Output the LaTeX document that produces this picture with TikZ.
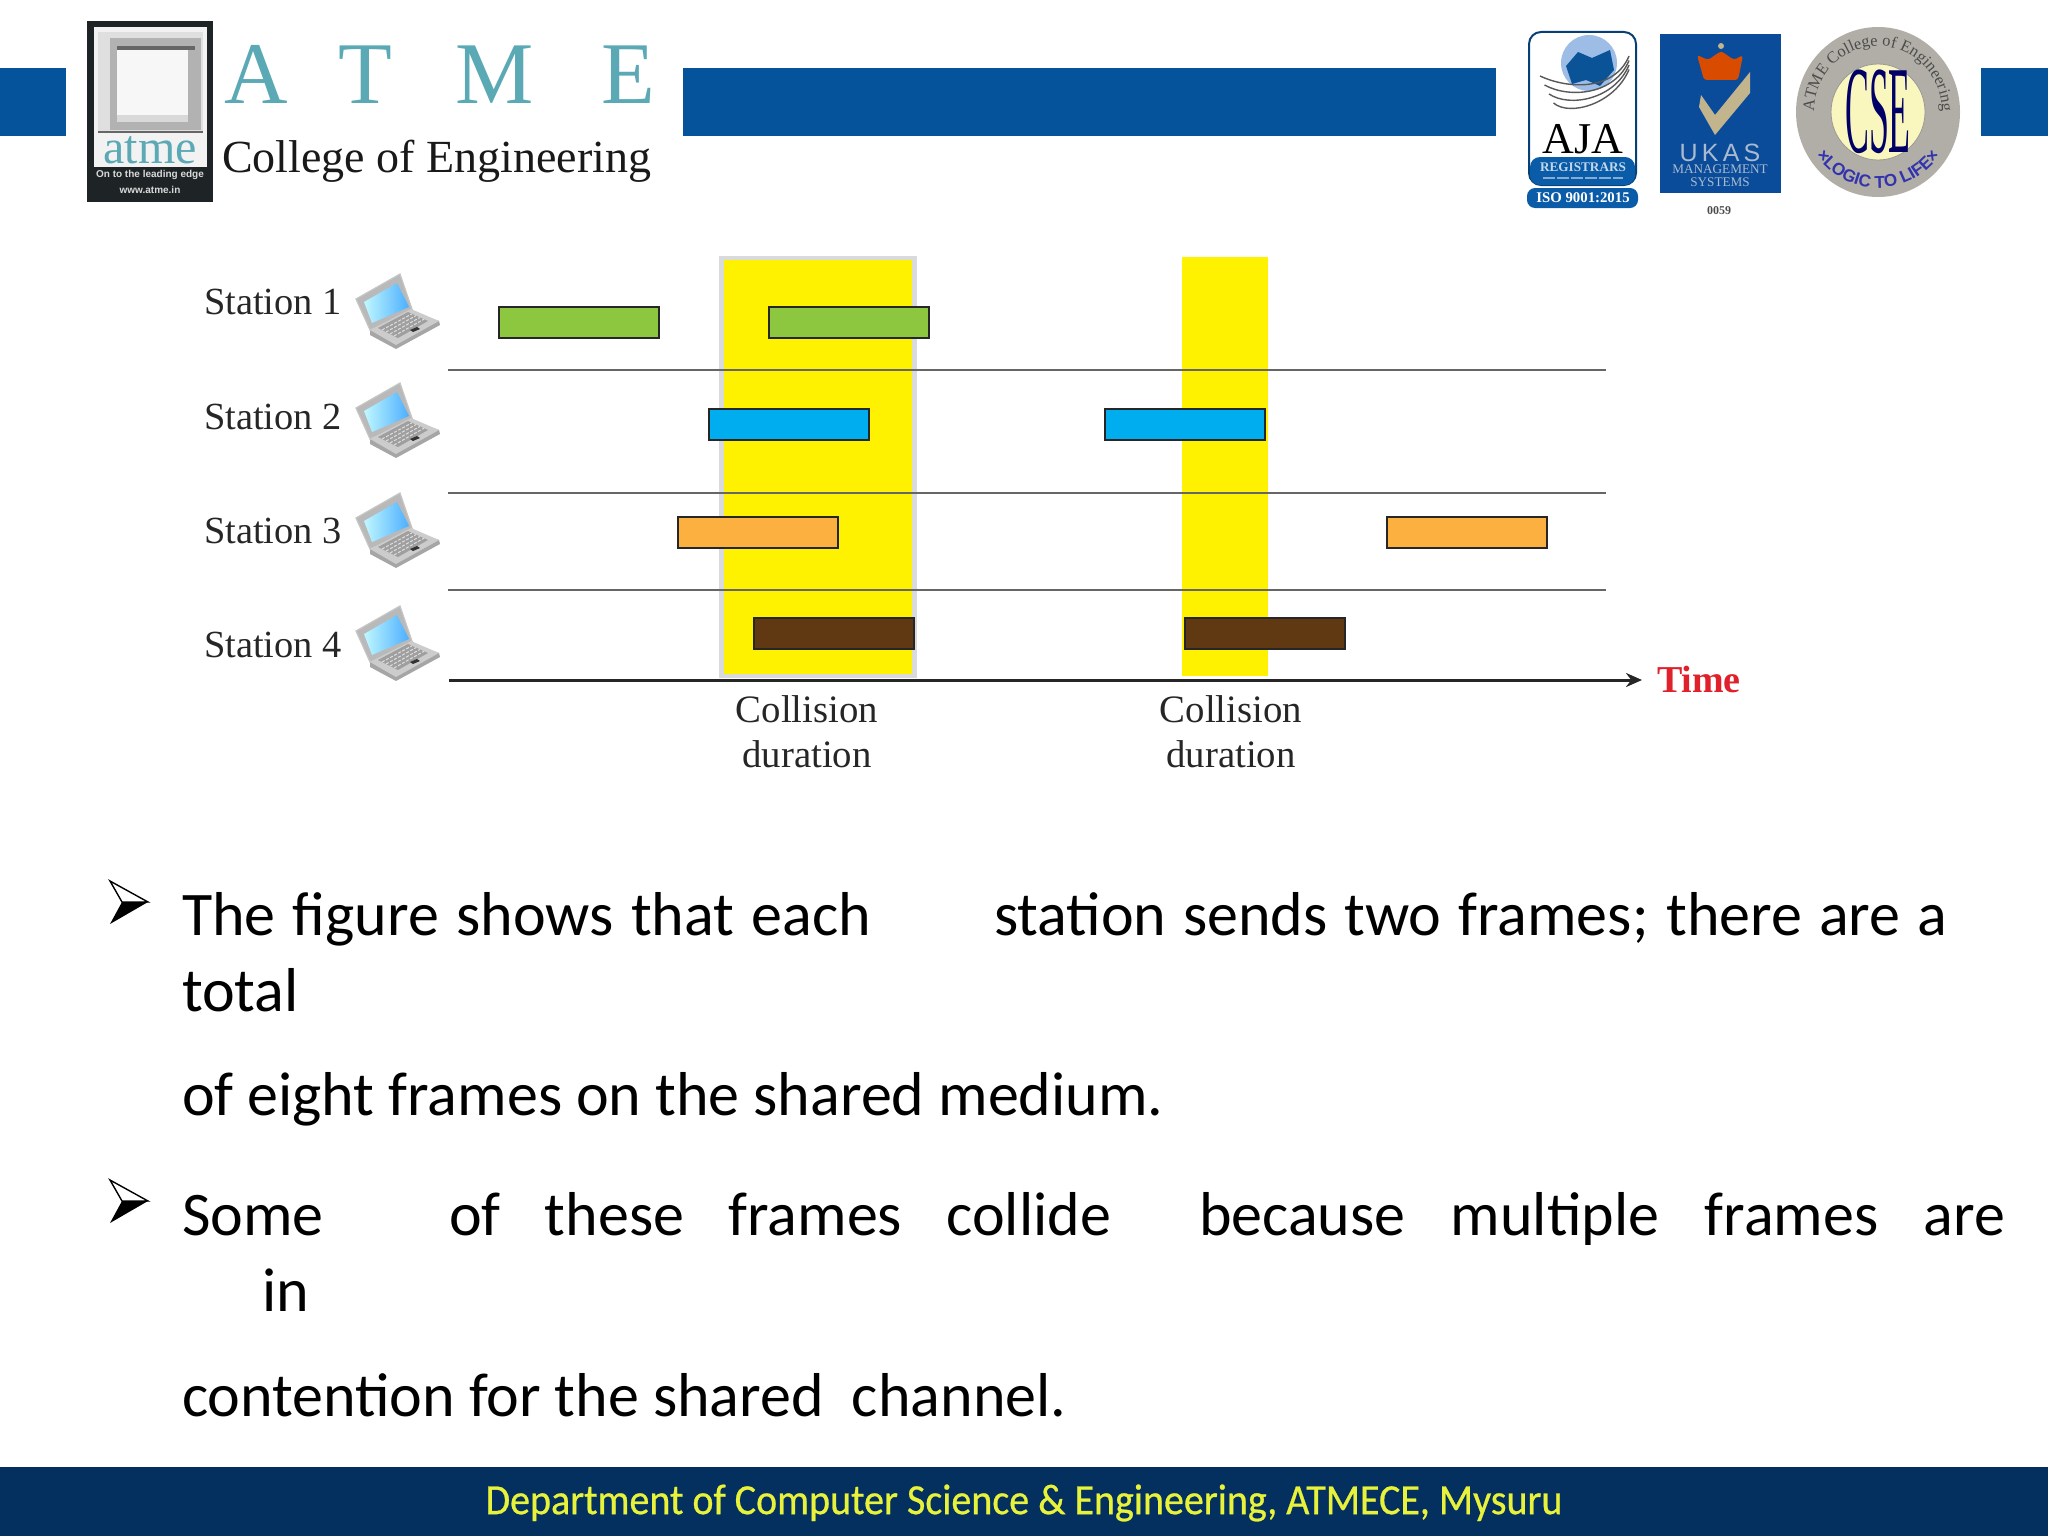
\documentclass[tikz,border=0pt]{standalone}
\usepackage{fontspec}
\setmainfont{Liberation Serif}
\newfontfamily\bodyfont{Carlito}
\newfontfamily\footfont[FakeStretch=.93,FakeBold=.6]{Carlito}
\newfontfamily\sansfont{Liberation Sans}
\usetikzlibrary{arrows.meta,calc,decorations.text}
\definecolor{barblue}{HTML}{05549B}
\definecolor{footblue}{HTML}{03305F}
\definecolor{footyellow}{HTML}{E9F23A}
\definecolor{atmeteal}{HTML}{5BA9B5}
\definecolor{logodark}{HTML}{1E2426}
\definecolor{framegreen}{HTML}{8DC63F}
\definecolor{frameblue}{HTML}{00AEEF}
\definecolor{frameorange}{HTML}{FBB040}
\definecolor{framebrown}{HTML}{603913}
\definecolor{collyellow}{HTML}{FFF200}
\definecolor{collgray}{HTML}{D8DADC}
\definecolor{timered}{HTML}{E0202A}
\definecolor{ajablue}{HTML}{0B5CA8}
\definecolor{ukasblue}{HTML}{0A4C9A}
\definecolor{ukastext}{HTML}{A9BBD0}
\definecolor{ukastan}{HTML}{C2B48C}
\definecolor{ringgray}{HTML}{B0AEA6}
\definecolor{globeblue}{HTML}{9DBDE6}
\tikzset{
	plain/.style={inner sep=0pt, outer sep=0pt},
	bodyline/.style={plain, anchor=base west, font=\bodyfont\fontsize{31}{32}\selectfont},
	stationlabel/.style={plain, anchor=base west, text=black!85, font=\fontsize{19.2}{20}\selectfont},
	colllabel/.style={plain, align=center, text=black!85, font=\fontsize{19.4}{22.5}\selectfont},
	framebar/.style={draw=black!85, line width=1.3pt},
	laptop/.pic={
		\fill[gray!70] (-42,-12) -- (2,-37) -- (15,1) -- (41,10) -- (42,14) -- (-2,38) -- (-28,24) -- (-28,19) -- cycle;
		\draw[gray!45, line width=.6pt, fill=gray!55] (-42,-12) -- (2,-37) -- (15,1) -- (-28,19) -- cycle;
		\shade[left color=blue!12!cyan!25, right color=cyan!55!blue!70] (-34,-9) -- (-1,-28) -- (11,-4) -- (-26,12) -- cycle;
		\fill[gray!40] (-28,19) -- (13,-2) -- (41,10) -- (-2,34) -- cycle;
		\fill[gray!75] (-20,17) -- (10,1) -- (30,10) -- (0,27) -- cycle;
		\foreach \t in {.2,.4,.6,.8} {
			\draw[white!75!gray, line width=.5pt, dash pattern=on 1.5pt off .8pt] ($(-20,17)!\t!(0,27)$) -- ($(10,1)!\t!(30,10)$);
		}
		\fill[black!80] (12,19) -- (19,16) -- (22,18) -- (15,21) -- cycle;
	}
}
\begin{document}
\begin{tikzpicture}[x=.5pt, y=-.5pt]
	\useasboundingbox (0,0) rectangle (2048,1536);
	% header bars
	\foreach \xa/\xb in {0/66, 683/1496, 1981/2048} {
		\fill[barblue] (\xa,68) rectangle (\xb,136);
	}
	% college logo
	\fill[logodark] (87,21) rectangle (213,202);
	\fill[white!95!black] (94,27) rectangle (207,167);
	\fill[gray!25] (98,32) rectangle (203,133);
	\fill[gray!60] (110,38) rectangle (201,130);
	\fill[gray!30] (117,50) rectangle (188,122);
	\fill[white!97!black] (117,50) rectangle (188,115);
	\fill[black!60] (117,46) rectangle (195,50);
	\fill[black!60] (98,131) rectangle (203,133);
	\node[plain, text=atmeteal, font=\fontsize{24}{24}\selectfont, anchor=base] (atmeword) at (150,163) {atme};
	\node[plain, text=white!85!black, font=\sansfont\bfseries\fontsize{5}{6}\selectfont] (atmemotto) at (150,175) {On to the leading edge};
	\node[plain, text=white!85!black, font=\sansfont\bfseries\fontsize{5}{6}\selectfont] (atmeweb) at (150,190) {www.atme.in};
	\foreach \letter/\xpos in {A/224, T/338, M/455, E/601} {
		\node[plain, text=atmeteal, anchor=base west, font=\fontsize{44}{44}\selectfont] (atme\letter) at (\xpos,104) {\letter};
	}
	\node[plain, anchor=base west, text=black!90, font=\fontsize{23}{24}\selectfont] (college) at (222,172) {College of Engineering};
	% AJA logo
	\draw[draw=ajablue!70!black, fill=white, line width=1pt, rounded corners=6pt] (1529,32) rectangle (1636,185);
	\fill[ajablue, rounded corners=5pt] (1530,157) rectangle (1635,185);
	\fill[ajablue, rounded corners=4pt] (1527,188) rectangle (1638,208);
	\fill[globeblue] (1589,63) circle (28);
	\fill[ajablue!90!black] (1566,66) -- (1578,52) -- (1592,58) -- (1610,50) -- (1614,70) -- (1600,86) -- (1586,80) -- (1572,84) -- cycle;
	\foreach \dy in {0,9,18,27} {
		\draw[black!65, line width=.7pt] ({1540+\dy/2},{76+\dy}) .. controls (1570,{90+\dy}) and (1615,{90+\dy/2}) .. (1629,{56+\dy/2});
	}
	\node[plain, anchor=base, text=black, font=\fontsize{22}{22}\selectfont] (ajaword) at (1583,153) {AJA};
	\node[plain, text=white!75!ajablue, font=\bfseries\fontsize{6.6}{7}\selectfont] (ajareg) at (1583,167) {REGISTRARS};
	\draw[white!50!ajablue, line width=1pt, dash pattern=on 6pt off 1pt] (1543,178) -- (1623,178);
	\node[plain, text=white, font=\bfseries\fontsize{7.4}{8}\selectfont] (ajaiso) at (1583,198) {ISO 9001:2015};
	% UKAS logo
	\fill[ukasblue] (1660,34) rectangle (1781,193);
	\fill[orange!70!red!85!black, rounded corners=1.5pt] (1697,55) -- (1708,60) -- (1721,51) -- (1734,60) -- (1743,55) -- (1738,80) -- (1704,80) -- cycle;
	\fill[ukastan] (1721,46) circle (3);
	\fill[ukastan] (1701,95) -- (1715,115) -- (1750,72) -- (1750,93) -- (1715,135) -- (1699,107) -- cycle;
	\node[plain, text=ukastext, font=\sansfont\fontsize{12.5}{14}\selectfont] (ukasword) at (1720,153) {U\,K\,A\,S};
	\node[plain, text=ukastext, align=center, font=\fontsize{6.6}{6.6}\selectfont] (ukasnote) at (1720,176) {MANAGEMENT\\SYSTEMS};
	\node[plain, text=black!70, font=\bfseries\fontsize{6}{6}\selectfont] (ukasnum) at (1719,211) {0059};
	% CSE badge
	\fill[ringgray] (1878,112) ellipse (82 and 85);
	\draw[black!40, fill=yellow!25!white!95!gray] (1878,112) ellipse (47 and 48);
	\node[plain, text=blue!40!black, xscale=.56, yscale=1.95, font=\fontsize{32}{32}\selectfont] (cseword) at (1878,112) {CSE};
	\path[decorate, decoration={text along path, text align=center, text color=black!70, text={|\fontsize{8.2}{9}\selectfont|ATME College of Engineering}}] (1878,112) ++(178:64 and 66) arc[start angle=178, end angle=362, x radius=64, y radius=66];
	\path[decorate, decoration={text along path, text align=center, text color=blue!60!black!80, text={|\sansfont\bfseries\fontsize{8.6}{9}\selectfont|×LOGIC TO LIFE×}}] (1878,112) ++(165:75 and 76) arc[start angle=165, end angle=15, x radius=75, y radius=76];
	% collision bands
	\fill[collgray] (719,256) rectangle (917,678);
	\fill[collyellow] (724,260) rectangle (912,674);
	\fill[collyellow] (1182,257) rectangle (1268,676);
	% channel separators
	\foreach \y in {370, 493, 590} {
		\draw[black!60, line width=1pt] (448,\y) -- (1606,\y);
	}
	\coordinate (axisstart) at (449,680);
	\coordinate (axisend) at (1642,680);
	\draw[-{Stealth[length=8pt, width=7pt]}, black!85, line width=1.5pt] (axisstart) -- (axisend);
	\node[plain, anchor=west, text=timered, font=\bfseries\fontsize{19}{20}\selectfont] (timelabel) at (1657,679) {Time};
	% frames
	\foreach \xa/\ya/\col in {499/307/framegreen, 769/307/framegreen, 709/409/frameblue, 1105/409/frameblue,
		678/517/frameorange, 1387/517/frameorange, 754/618/framebrown, 1185/618/framebrown} {
		\draw[framebar, fill=\col] (\xa,\ya) rectangle ++(160,31);
	}
	% stations
	\foreach \n/\ya/\yb in {1/314/311, 2/429/420, 3/543/530, 4/657/643} {
		\node[stationlabel] (station\n) at (204,\ya) {Station \n};
		\pic at (398,\yb) {laptop};
	}
	\node[colllabel] (collisionA) at (807,732) {Collision\\duration};
	\node[colllabel] (collisionB) at (1231,732) {Collision\\duration};
	% bullets
	\foreach \y in {902, 1201} {
		\draw[black, line width=.7pt, fill=white] (110,\y-21) -- (148,\y) -- (122,\y) -- cycle;
		\fill[black] (110,\y+22) -- (148,\y) -- (122,\y) -- cycle;
	}
	% body text
	\node[bodyline] (lineA) at (182,935) {\makebox[344.5pt][s]{The figure shows that each}};
	\node[bodyline] (lineB) at (994,935) {\makebox[476.5pt][s]{station sends two frames; there are a}};
	\node[bodyline] (lineC) at (182,1011) {total};
	\node[bodyline] (lineD) at (182,1115) {of eight frames on the shared medium.};
	\node[bodyline] (lineE) at (182,1235) {Some};
	\node[bodyline] (lineF) at (449,1235) {\makebox[331pt][s]{of these frames collide}};
	\node[bodyline] (lineG) at (1199,1235) {\makebox[403pt][s]{because multiple frames are}};
	\node[bodyline] (lineH) at (262,1311) {in};
	\node[bodyline] (lineI) at (182,1416) {contention for the shared\ \ channel.};
	% footer
	\fill[footblue] (0,1467) rectangle (2048,1536);
	\node[plain, text=footyellow, font=\footfont\fontsize{21.5}{22}\selectfont] (footer) at (1024,1503) {Department of Computer Science \& Engineering, ATMECE, Mysuru};
\end{tikzpicture}
\end{document}
